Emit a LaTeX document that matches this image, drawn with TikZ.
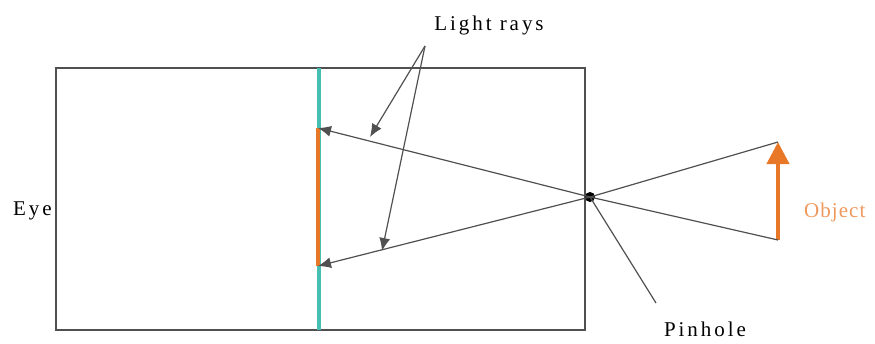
\documentclass[tikz,border=0pt]{standalone}
\usepackage{fontspec}
\setmainfont{Liberation Serif}
\newfontfamily\lblfont{Liberation Serif}[LetterSpace=14]
\newfontfamily\objfont{Liberation Serif}[LetterSpace=5]
\usetikzlibrary{arrows.meta}
\definecolor{screenteal}{RGB}{70,190,180}
\definecolor{imgorange}{RGB}{232,120,40}
\definecolor{linegray}{RGB}{80,80,80}
\begin{document}
\begin{tikzpicture}[x=1pt,y=-1pt,
  box/.style={draw=linegray,line width=1.6pt},
  ray/.style={draw=linegray,line width=1.2pt},
  rayhead/.style={ray,-{Latex[length=13pt,width=11pt]}},
  lbl/.style={font=\lblfont\fontsize{21}{24}\selectfont,inner sep=0pt}]
\useasboundingbox (0,0) rectangle (875,343);
% box (eye)
\draw[box] (56,68) rectangle (585,330);
% retina / screen
\coordinate (st) at (319,68);
\coordinate (sb) at (319,330);
\draw[screenteal,line width=4pt] (st) -- (sb);
% image on screen
\coordinate (it) at (318,128);
\coordinate (ib) at (318,266);
\draw[imgorange,line width=4pt] (it) -- (ib);
% object
\coordinate (ot) at (778,142);
\coordinate (ob) at (778,240);
\draw[imgorange,line width=4pt,-{Triangle[length=22pt,width=22pt]}] (ob) -- (ot);
% pinhole
\coordinate (ph) at (590,197);
\fill[black] (ph) circle (5pt);
% rays
\draw[rayhead] (ot) -- (ph) -- (ib);
\draw[rayhead] (ob) -- (ph) -- (it);
% labels
\node[lbl,anchor=west] (eye) at (13,211) {Eye};
\node[lbl,anchor=west,text=imgorange!75,font=\objfont\fontsize{21}{24}\selectfont] (obj) at (804,212) {Object};
\node[lbl] (lr) at (489,25) {Light rays};
\node[lbl] (pin) at (705,329) {Pinhole};
% light ray leaders
\coordinate (lrs) at (425,46);
\coordinate (a1) at (370,137);
\coordinate (a2) at (382,251);
\draw[rayhead] (lrs) -- (a1);
\draw[rayhead] (lrs) -- (a2);
% pinhole leader
\coordinate (pl) at (656,303);
\draw[ray] (ph) -- (pl);
\end{tikzpicture}
\end{document}
